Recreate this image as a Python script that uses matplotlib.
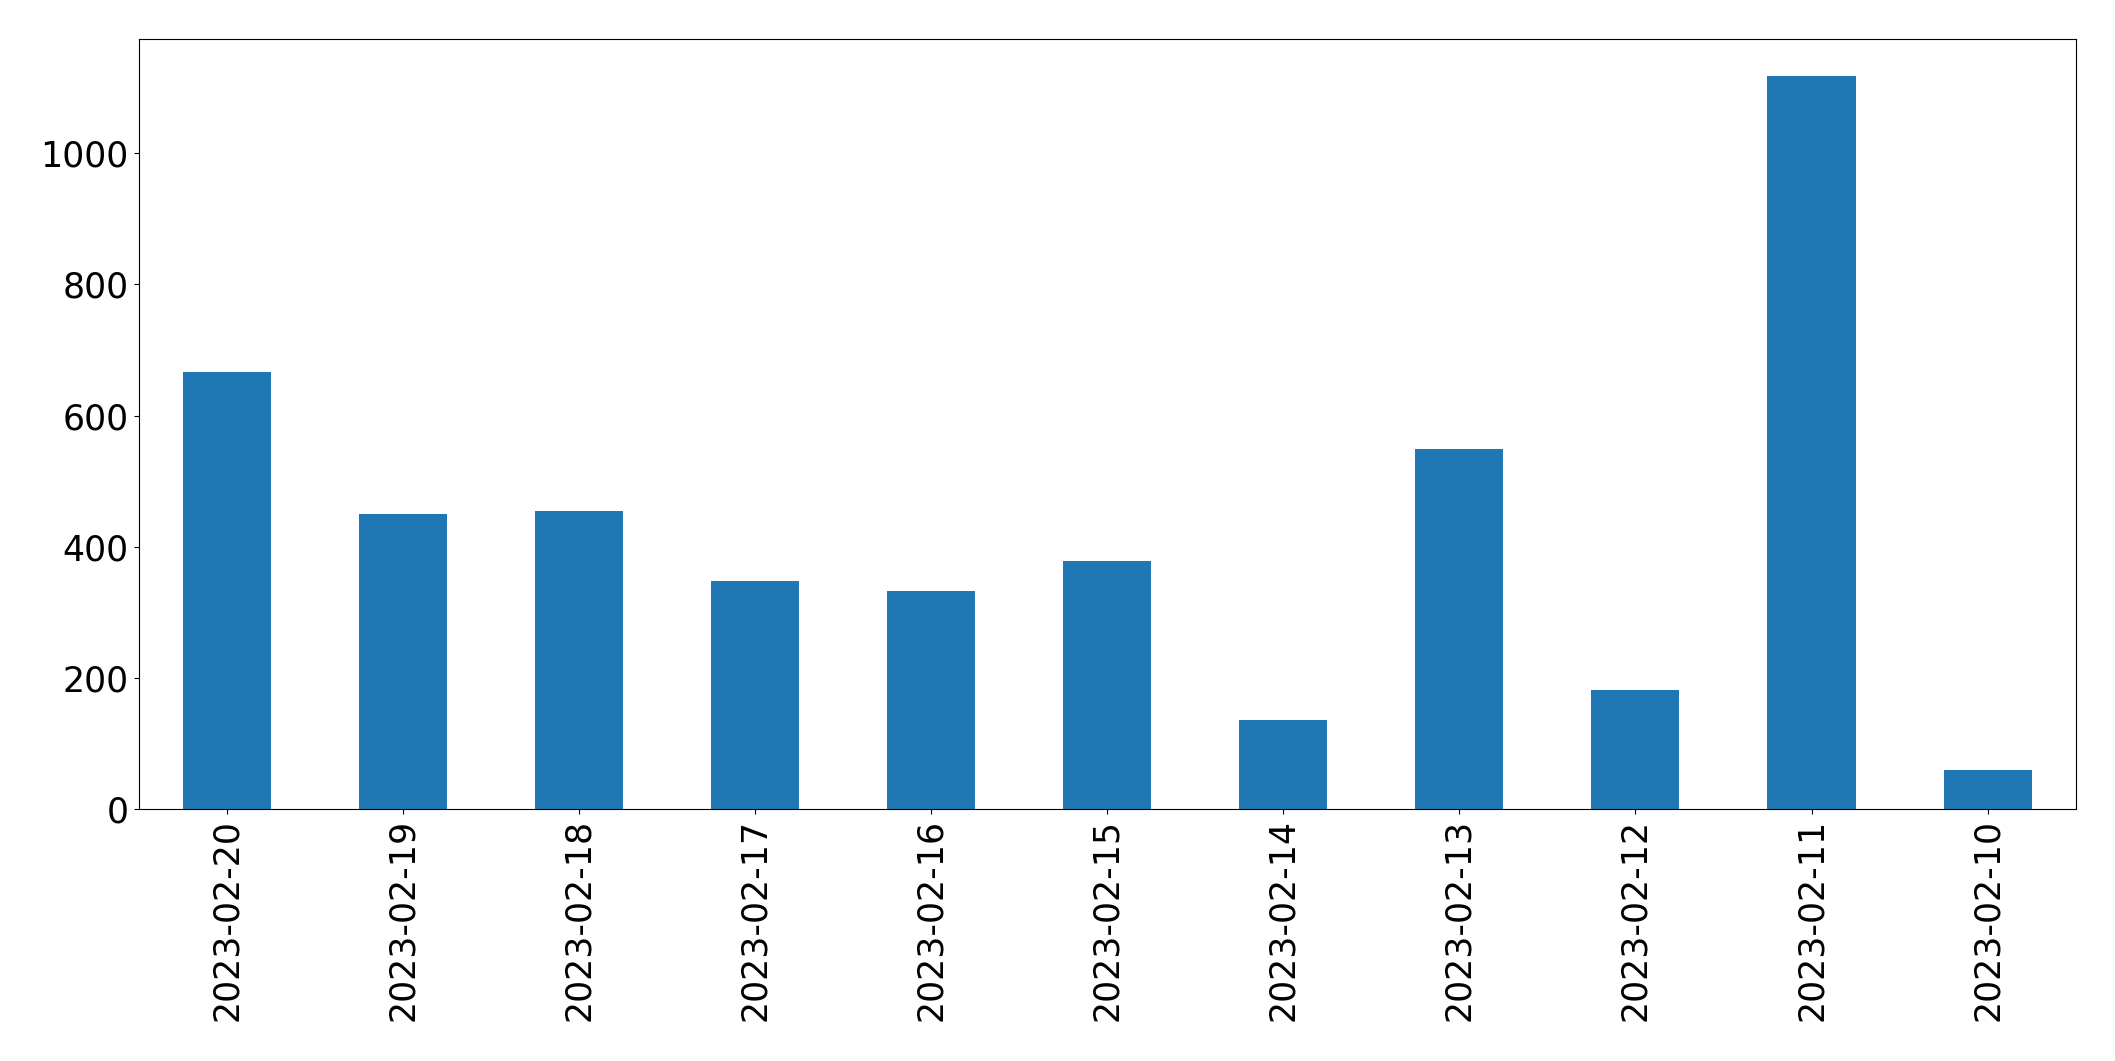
import matplotlib
matplotlib.use("Agg")
import matplotlib.pyplot as plt

dates = ["2023-02-20", "2023-02-19", "2023-02-18", "2023-02-17", "2023-02-16",
         "2023-02-15", "2023-02-14", "2023-02-13", "2023-02-12", "2023-02-11",
         "2023-02-10"]
counts = [666, 450, 454, 347, 332, 378, 136, 549, 181, 1118, 59]

fig = plt.figure(figsize=(21.15, 10.61), dpi=100)
ax = fig.add_axes([0.0655, 0.2375, 0.9814 - 0.0655, 0.963 - 0.2375])
x = list(range(len(dates)))
ax.bar(x, counts, width=0.5, color="#1f77b4")
ax.set_xlim(-0.5, len(dates) - 0.5)
ax.set_xticks(x)
ax.set_xticklabels(dates, rotation=90)
ax.tick_params(axis="both", labelsize=25)
fig.savefig("out.png", dpi=100)
